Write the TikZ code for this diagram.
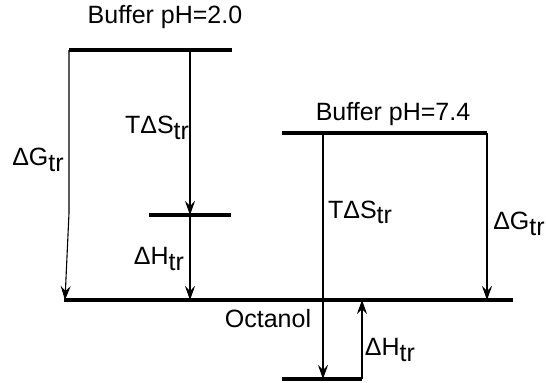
\documentclass[tikz,border=0pt]{standalone}
\usepackage{fontspec}
\setmainfont{Liberation Sans}
\usetikzlibrary{positioning,arrows.meta,calc}

\newcommand{\trsub}{\raisebox{-0.4ex}{tr}}

\begin{document}
\begin{tikzpicture}[
    x=0.5pt,
    y=-0.5pt,
    >={Stealth[length=7pt,width=5pt,inset=2.5pt]},
    font=\fontsize{12.5}{15}\selectfont,
    every node/.style={align=center, inner sep=0pt},
    level/.style={line width=1.6pt},
    move/.style={->, line width=0.55pt}
]

\useasboundingbox (0,0) rectangle (546,382);

% Levels
\coordinate (acidL) at (69,50);
\coordinate (acidR) at (232,50);
\coordinate (midL) at (149,215);
\coordinate (midR) at (231,215);
\coordinate (octL) at (64,300);
\coordinate (octR) at (513,300);
\coordinate (neutL) at (282,133);
\coordinate (neutR) at (487,133);
\coordinate (lowL) at (282,379);
\coordinate (lowR) at (362,379);

\draw[level] (acidL) -- (acidR);
\draw[level] (midL) -- (midR);
\draw[level] (octL) -- (octR);
\draw[level] (neutL) -- (neutR);
\draw[level] (lowL) -- (lowR);

% Arrow ends
\coordinate (acidS) at (190,50);
\coordinate (midS) at (190,215);
\coordinate (octHa) at (190,300);
\coordinate (bendG) at (69,213);
\coordinate (octGa) at (65,300);
\coordinate (neutS) at (323,133);
\coordinate (lowS) at (323,379);
\coordinate (octHb) at (362,300);
\coordinate (octGb) at (487,300);

% Arrows
\draw[move] (acidL) -- (bendG) -- (octGa);
\draw[move] (acidS) -- (midS);
\draw[move] (midS) -- (octHa);
\draw[move] (neutS) -- (lowS);
\draw[move] (neutR) -- (octGb);
\draw[move] (lowR) -- (octHb);

% Labels
\node (acidlabel) at (165,17) {Buffer pH=2.0};
\node (neutlabel) at (393,114) {Buffer pH=7.4};
\node (octlabel) at (268,319) {Octanol};
\node (gleft) at (38,160) {ΔG\trsub};
\node (sleft) at (157,128) {TΔS\trsub};
\node (hleft) at (159,259) {ΔH\trsub};
\node (sright) at (360,212) {TΔS\trsub};
\node (gright) at (519,224) {ΔG\trsub};
\node (hright) at (390,350) {ΔH\trsub};

\end{tikzpicture}
\end{document}
